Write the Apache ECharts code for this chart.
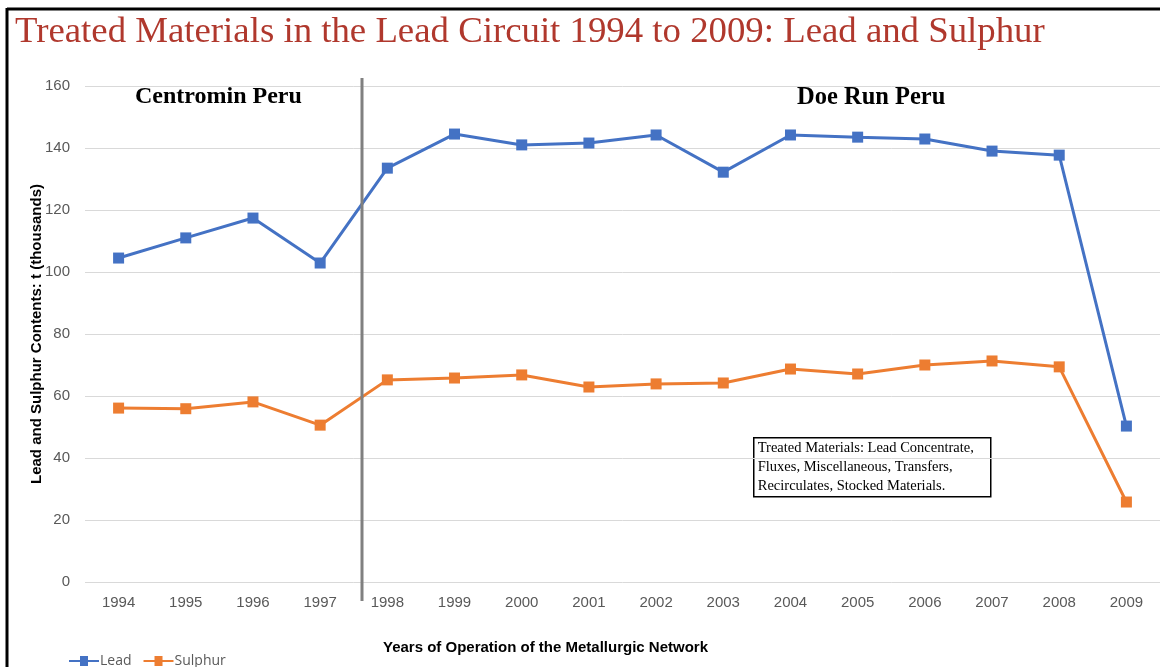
<!DOCTYPE html>
<html>
<head>
  <meta charset="UTF-8">
  <title>Treated Materials in the Lead Circuit</title>
  <script src="https://cdn.jsdelivr.net/npm/echarts@6/dist/echarts.min.js"></script>
  <style>
    html, body { margin: 0; padding: 0; background: #fff; }
    #main { width: 1160px; height: 667px; }
  </style>
</head>
<body>
<div id="main"></div>
<script>
  // years on the x axis
  var years = ['1994', '1995', '1996', '1997', '1998', '1999', '2000', '2001',
               '2002', '2003', '2004', '2005', '2006', '2007', '2008', '2009'];
  // thousands of tonnes
  var lead = [104.5, 111, 117.4, 102.9, 133.5, 144.5, 141, 141.6,
              144.2, 132.2, 144.2, 143.5, 142.9, 139, 137.7, 50.3];
  var sulphur = [56.1, 55.9, 58.1, 50.6, 65.2, 65.8, 66.8, 62.9,
                 63.9, 64.2, 68.7, 67.1, 70, 71.3, 69.4, 25.8];
  var yTicks = [0, 20, 40, 60, 80, 100, 120, 140, 160];

  var serif = '"Liberation Serif", "DejaVu Serif", serif';
  var sans = '"Liberation Sans", Arial, sans-serif';

  var option = {
    backgroundColor: '#fff',
    animation: false,
    title: {
      text: 'Treated Materials in the Lead Circuit 1994 to 2009: Lead and Sulphur',
      left: 10,
      top: 9,
      textStyle: { color: '#b0382d', fontFamily: serif, fontWeight: 'normal', fontSize: 36.8 }
    },
    legend: {
      left: 64,
      top: 649,
      itemWidth: 30,
      itemHeight: 10,
      itemGap: 12,
      icon: 'path://M0,4 L11,4 L11,0 L19,0 L19,4 L30,4 L30,6 L19,6 L19,10 L11,10 L11,6 L0,6 Z',
      textStyle: { color: '#595959', fontFamily: '"Open Sans", sans-serif', fontSize: 14, padding: [0, 0, 0, -4] },
      data: ['Lead', 'Sulphur']
    },
    grid: { left: 85, right: -8, top: 86, bottom: 85 },
    xAxis: {
      type: 'category',
      data: years,
      boundaryGap: true,
      name: 'Years of Operation of the Metallurgic Network',
      nameLocation: 'middle',
      nameGap: 58,
      nameTextStyle: { color: '#000', fontFamily: sans, fontWeight: 'bold', fontSize: 15, padding: [0, 154, 0, 0] },
      axisLine: { show: false },
      axisTick: { show: false },
      axisLabel: { color: '#595959', fontFamily: sans, fontSize: 15, margin: 13 }
    },
    yAxis: {
      type: 'value',
      min: yTicks[0],
      max: yTicks[yTicks.length - 1],
      interval: 20,
      name: 'Lead and Sulphur Contents: t (thousands)',
      nameLocation: 'middle',
      nameGap: 41,
      nameMoveOverlap: false,
      nameTextStyle: { color: '#000', fontFamily: sans, fontWeight: 'bold', fontSize: 15 },
      axisLine: { show: false },
      axisTick: { show: false },
      axisLabel: { color: '#595959', fontFamily: sans, fontSize: 15, margin: 15 },
      splitLine: { lineStyle: { color: '#d9d9d9', width: 1 } }
    },
    series: [
      {
        name: 'Lead',
        type: 'line',
        data: lead,
        symbol: 'rect',
        symbolSize: 11,
        lineStyle: { color: '#4472c4', width: 3 },
        itemStyle: { color: '#4472c4' }
      },
      {
        name: 'Sulphur',
        type: 'line',
        data: sulphur,
        symbol: 'rect',
        symbolSize: 11,
        lineStyle: { color: '#ed7d31', width: 3 },
        itemStyle: { color: '#ed7d31' }
      }
    ],
    graphic: [
      // frame edges
      { type: 'line', shape: { x1: 7, y1: 9, x2: 1160, y2: 9 }, style: { stroke: '#000', lineWidth: 3 }, z: 20 },
      { type: 'line', shape: { x1: 7, y1: 8, x2: 7, y2: 667 }, style: { stroke: '#000', lineWidth: 3 }, z: 20 },
      // divider between the two operators
      { type: 'line', shape: { x1: 362, y1: 78, x2: 362, y2: 601 }, style: { stroke: '#808080', lineWidth: 3 }, z: 20 },
      { type: 'text', left: 135, top: 85, style: { text: 'Centromin Peru', fill: '#000', font: 'bold 24px ' + serif } },
      { type: 'text', left: 797, top: 85, style: { text: 'Doe Run Peru', fill: '#000', font: 'bold 24.5px ' + serif } },
      {
        type: 'group', left: 753, top: 437,
        children: [
          { type: 'rect', shape: { x: 0, y: 0, width: 237, height: 59 }, style: { fill: '#fff', stroke: '#000', lineWidth: 1.5 } },
          {
            type: 'text', x: 4, y: 1,
            style: {
              text: 'Treated Materials: Lead Concentrate,\nFluxes, Miscellaneous, Transfers,\nRecirculates, Stocked Materials.',
              fill: '#000', font: '14.5px ' + serif, lineHeight: 19
            }
          }
        ]
      }
    ]
  };

  echarts.init(document.getElementById('main')).setOption(option);
</script>
</body>
</html>
